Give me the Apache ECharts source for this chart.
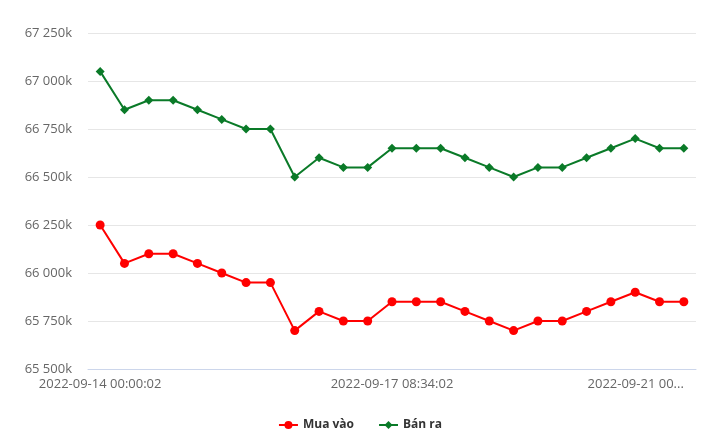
<!DOCTYPE html>
<html>
<head>
<meta charset="utf-8">
<script src="https://cdn.jsdelivr.net/npm/echarts@6/dist/echarts.min.js"></script>
<style>html,body{margin:0;padding:0;background:#fff}#c{width:720px;height:446px}</style>
</head>
<body>
<div id="c"></div>
<script>
var categories = [
  "2022-09-14 00:00:02","2022-09-14 08:30:02","2022-09-14 15:30:02","2022-09-15 00:00:02",
  "2022-09-15 08:30:02","2022-09-15 15:30:02","2022-09-16 00:00:02","2022-09-16 08:30:02",
  "2022-09-16 15:30:02","2022-09-16 18:00:02","2022-09-17 00:00:02","2022-09-17 04:00:02",
  "2022-09-17 08:34:02","2022-09-17 15:30:02","2022-09-18 00:00:02","2022-09-18 08:30:02",
  "2022-09-18 15:30:02","2022-09-19 00:00:02","2022-09-19 08:30:02","2022-09-19 15:30:02",
  "2022-09-20 00:00:02","2022-09-20 08:30:02","2022-09-20 15:30:02","2022-09-20 18:00:02",
  "2022-09-21 00:00:02"
];
var muaVao = [66250,66050,66100,66100,66050,66000,65950,65950,65700,65800,65750,65750,65850,65850,65850,65800,65750,65700,65750,65750,65800,65850,65900,65850,65850];
var banRa = [67050,66850,66900,66900,66850,66800,66750,66750,66500,66600,66550,66550,66650,66650,66650,66600,66550,66500,66550,66550,66600,66650,66700,66650,66650];
var yMin = 65500, yMax = 67250, yStep = 250;

function fmtK(v){
  var s = String(Math.round(v));
  return s.replace(/\B(?=(\d{3})+(?!\d))/g, ' ') + 'k';
}

var chart = echarts.init(document.getElementById('c'));
chart.setOption({
  animation: false,
  textStyle: {fontFamily: 'Open Sans'},
  grid: {left: 88, right: 24, top: 33, bottom: 77},
  legend: {
    bottom: 10, left: 'center', itemWidth: 19, itemHeight: 10, itemGap: 24,
    textStyle: {fontSize: 12, fontWeight: 'bold', color: '#333333', fontFamily: 'Open Sans'},
    data: ['Mua vào', 'Bán ra']
  },
  xAxis: {
    type: 'category', data: categories, boundaryGap: true,
    axisLine: {lineStyle: {color: '#ccd6eb'}},
    axisTick: {show: false},
    axisLabel: {
      interval: 11, color: '#666666', fontSize: 13, margin: 9,
      alignMaxLabel: 'right',
      formatter: function(v, i){ return i === categories.length - 1 ? v.slice(0, 13) + '...' : v; }
    }
  },
  yAxis: {
    type: 'value', min: yMin, max: yMax, interval: yStep,
    axisLine: {show: false}, axisTick: {show: false},
    splitLine: {lineStyle: {color: '#e6e6e6'}},
    axisLabel: {color: '#666666', fontSize: 13, margin: 16, formatter: fmtK}
  },
  series: [
    {name: 'Mua vào', type: 'line', data: muaVao, symbol: 'circle', symbolSize: 9,
     lineStyle: {width: 2, color: '#ff0000'}, itemStyle: {color: '#ff0000'}},
    {name: 'Bán ra', type: 'line', data: banRa, symbol: 'diamond', symbolSize: 9,
     lineStyle: {width: 2, color: '#0a7a28'}, itemStyle: {color: '#0a7a28'}}
  ]
});
</script>
</body>
</html>
